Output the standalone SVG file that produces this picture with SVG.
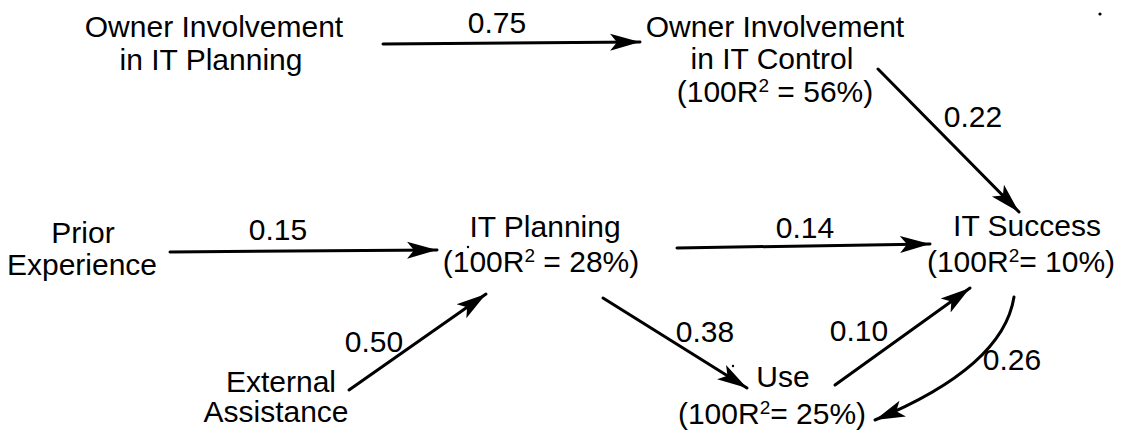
<svg xmlns="http://www.w3.org/2000/svg" width="1124" height="432" viewBox="0 0 1124 432">
  <style>
    .lbl { font-family: "Liberation Sans", Arial, sans-serif; font-size: 30px; fill: #000; text-anchor: middle; }
    .sup { font-size: 19px; }
    .edge { fill: none; stroke: #000; stroke-width: 3; stroke-linecap: round; marker-end: url(#head); }
    .speck { fill: #000; }
  </style>
  <defs>
    <marker id="head" markerUnits="userSpaceOnUse" markerWidth="32" markerHeight="20" refX="30" refY="10" orient="auto">
      <path d="M0,1.5 L30,10 L0,18.5 L7,10 z" fill="#000"/>
    </marker>
  </defs>
  <rect width="1124" height="432" fill="#fff"/>

  <!-- path coefficients -->
  <g id="connectors">
    <path class="edge" d="M383,44 L640,42"/>
    <path class="edge" d="M878,69 L1019,212"/>
    <path class="edge" d="M170,252 L437,250"/>
    <path class="edge" d="M677,248 L930,244"/>
    <path class="edge" d="M349,390 L486,294"/>
    <path class="edge" d="M603,298 L747,388"/>
    <path class="edge" d="M835,385 L970,288"/>
    <path class="edge" d="M1014,297 Q1003,367 875,420"/>
    <text class="lbl" x="497" y="33">0.75</text>
    <text class="lbl" x="973" y="127">0.22</text>
    <text class="lbl" x="278" y="240">0.15</text>
    <text class="lbl" x="805" y="238">0.14</text>
    <text class="lbl" x="374" y="352">0.50</text>
    <text class="lbl" x="705" y="342">0.38</text>
    <text class="lbl" x="859" y="341">0.10</text>
    <text class="lbl" x="1012" y="370">0.26</text>
  </g>

  <g id="owner-planning">
    <text class="lbl" x="214" y="37">Owner Involvement</text>
    <text class="lbl" x="211" y="70">in IT Planning</text>
  </g>

  <g id="owner-control">
    <text class="lbl" x="775" y="37">Owner Involvement</text>
    <text class="lbl" x="772" y="69">in IT Control</text>
    <text class="lbl" x="775" y="102">(100R<tspan class="sup" dy="-10">2</tspan><tspan dy="10"> = 56%)</tspan></text>
  </g>

  <g id="prior-experience">
    <text class="lbl" x="83" y="243">Prior</text>
    <text class="lbl" x="82" y="275">Experience</text>
  </g>

  <g id="it-planning">
    <text class="lbl" x="545" y="237">IT Planning</text>
    <text class="lbl" x="541" y="272">(100R<tspan class="sup" dy="-10">2</tspan><tspan dy="10"> = 28%)</tspan></text>
  </g>

  <g id="it-success">
    <text class="lbl" x="1027" y="236">IT Success</text>
    <text class="lbl" x="1021" y="272">(100R<tspan class="sup" dy="-10">2</tspan><tspan dy="10">= 10%)</tspan></text>
  </g>

  <g id="external-assistance">
    <text class="lbl" x="281" y="392">External</text>
    <text class="lbl" x="276" y="422">Assistance</text>
  </g>

  <g id="use">
    <text class="lbl" x="783" y="387">Use</text>
    <text class="lbl" x="772" y="424">(100R<tspan class="sup" dy="-10">2</tspan><tspan dy="10">= 25%)</tspan></text>
  </g>

  <!-- stray print marks -->
  <circle class="speck" cx="1100" cy="14" r="1.6"/>
  <circle class="speck" cx="468" cy="247" r="1.2"/>
  <circle class="speck" cx="733" cy="366" r="1.2"/>
</svg>
